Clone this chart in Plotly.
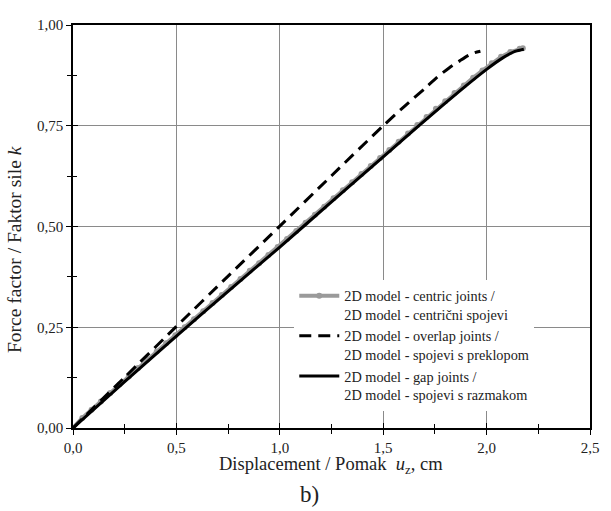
import plotly.graph_objects as go

# Data
x_centric = [0.00, 0.045, 0.09, 0.135, 0.18, 0.225, 0.27, 0.315, 0.36, 0.405, 0.45, 0.495,
             0.54, 0.585, 0.63, 0.675, 0.72, 0.765, 0.81, 0.855, 0.90, 0.945, 0.99, 1.035,
             1.08, 1.125, 1.17, 1.215, 1.26, 1.305, 1.35, 1.395, 1.44, 1.485, 1.53, 1.575,
             1.62, 1.665, 1.71, 1.755, 1.80, 1.845, 1.89, 1.935, 1.98, 2.025, 2.07, 2.115,
             2.16, 2.175]
y_centric = [0.000, 0.025, 0.045, 0.066, 0.087, 0.108, 0.128, 0.149, 0.170, 0.190, 0.210, 0.230,
             0.250, 0.270, 0.290, 0.310, 0.330, 0.350, 0.370, 0.390, 0.409, 0.429, 0.449, 0.469,
             0.489, 0.509, 0.529, 0.549, 0.570, 0.590, 0.610, 0.630, 0.650, 0.670, 0.690, 0.710,
             0.731, 0.752, 0.772, 0.792, 0.811, 0.831, 0.850, 0.869, 0.887, 0.905, 0.921, 0.933,
             0.941, 0.942]

x_overlap = [0.0, 0.25, 0.5, 0.75, 1.0, 1.25, 1.5, 1.6, 1.7, 1.76, 1.82, 1.87, 1.91, 1.94, 1.97]
y_overlap = [0.0, 0.126, 0.252, 0.377, 0.501, 0.626, 0.750, 0.797, 0.842, 0.870, 0.894, 0.911, 0.924, 0.931, 0.935]

x_gap = [0.0, 0.25, 0.5, 0.75, 1.0, 1.25, 1.5, 1.67, 1.8, 1.9, 2.0, 2.08, 2.14, 2.18]
y_gap = [0.0, 0.115, 0.228, 0.339, 0.449, 0.561, 0.673, 0.749, 0.806, 0.849, 0.890, 0.919, 0.935, 0.940]

names = [
    "2D model - centric joints /<br>2D model - centrični spojevi",
    "2D model - overlap joints /<br>2D model - spojevi s preklopom",
    "2D model - gap joints /<br>2D model - spojevi s razmakom",
]

x_ticks = [0.0, 0.5, 1.0, 1.5, 2.0, 2.5]
y_ticks = [0.0, 0.25, 0.5, 0.75, 1.0]

FONT = "Liberation Serif"

fig = go.Figure()
fig.add_trace(go.Scatter(x=x_centric, y=y_centric, mode="lines+markers", name=names[0],
                         line=dict(color="#9a9a9a", width=4),
                         marker=dict(color="#9a9a9a", size=6)))
fig.add_trace(go.Scatter(x=x_overlap, y=y_overlap, mode="lines", name=names[1],
                         line=dict(color="black", width=3, dash="12px,7px", shape="spline", smoothing=0.6)))
fig.add_trace(go.Scatter(x=x_gap, y=y_gap, mode="lines", name=names[2],
                         line=dict(color="black", width=3, shape="spline", smoothing=0.6)))
# invisible trace to hold overlay axes (inner half of crossing ticks)
fig.add_trace(go.Scatter(x=[0], y=[0], xaxis="x2", yaxis="y2", mode="markers",
                         marker=dict(opacity=0), showlegend=False, hoverinfo="skip"))

common = dict(ticks="outside", ticklen=5, tickwidth=1.3, tickcolor="black",
              showline=True, linecolor="black", linewidth=1.5, zeroline=False,
              tickfont=dict(family=FONT, size=15, color="#222"))

fig.update_layout(
    width=611, height=511,
    margin=dict(l=73, r=16, t=25, b=83),
    paper_bgcolor="white", plot_bgcolor="white",
    separators=", ",
    font=dict(family=FONT, size=15, color="#222"),
    xaxis=dict(range=[0, 2.5], tickvals=x_ticks, tickformat=".1f", showgrid=True,
               gridcolor="#8a8a8a", gridwidth=1, mirror=True,
               minor=dict(dtick=0.25, tick0=0, ticks="outside", ticklen=4, tickcolor="black", showgrid=False),
               **common),
    yaxis=dict(range=[0, 1.0], tickvals=y_ticks, tickformat=".2f", showgrid=True,
               gridcolor="#8a8a8a", gridwidth=1, mirror=True,
               minor=dict(dtick=0.125, tick0=0, ticks="outside", ticklen=4, tickcolor="black", showgrid=False),
               **common),
    xaxis2=dict(range=[0, 2.5], overlaying="x", anchor="y2", side="bottom", tickvals=x_ticks,
                ticks="inside", ticklen=5, tickwidth=1.3, tickcolor="black",
                showticklabels=False, showgrid=False, zeroline=False, showline=False,
                minor=dict(dtick=0.25, tick0=0, ticks="inside", ticklen=4, tickcolor="black")),
    yaxis2=dict(range=[0, 1.0], overlaying="y", anchor="x2", side="left", tickvals=y_ticks,
                ticks="inside", ticklen=5, tickwidth=1.3, tickcolor="black",
                showticklabels=False, showgrid=False, zeroline=False, showline=False,
                minor=dict(dtick=0.125, tick0=0, ticks="inside", ticklen=4, tickcolor="black")),
    legend=dict(x=0.428, y=0.3675, xanchor="left", yanchor="top", bgcolor="white",
                font=dict(family=FONT, size=14.3, color="#222"), itemwidth=40,
                valign="top", tracegroupgap=0),
    showlegend=True,
)

fig.add_annotation(text="Displacement / Pomak  <i>u</i><sub>z</sub>, cm", xref="paper", yref="paper",
                   x=0.499, y=-0.093, showarrow=False, yanchor="middle",
                   font=dict(family=FONT, size=18.5, color="#222"))
fig.add_annotation(text="Force factor / Faktor sile <i>k</i>", xref="paper", yref="paper",
                   x=-0.112, y=0.442, showarrow=False, textangle=-90, xanchor="center",
                   font=dict(family=FONT, size=19.5, color="#222"))
fig.add_annotation(text="b)", xref="paper", yref="paper", x=0.457, y=-0.164, showarrow=False,
                   yanchor="middle", font=dict(family=FONT, size=23, color="#222"))

fig.write_html("out.html", config={"displayModeBar": False},
               post_script="document.body.style.margin='0';document.body.style.padding='0';")
